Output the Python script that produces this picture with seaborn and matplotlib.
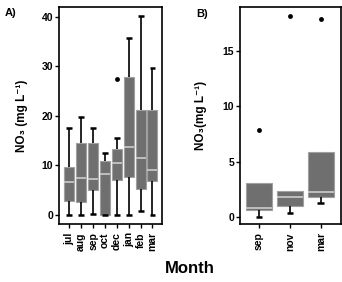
import matplotlib
matplotlib.use("Agg")
import matplotlib.pyplot as plt
import numpy as np
import pandas as pd
import seaborn as sns

# panel A: five-number summaries per month (min, q1, median, q3, max)
months_a = ["jul", "aug", "sep", "oct", "dec", "jan", "feb", "mar"]
lo_a = [0.0, 0.0, 0.2, 0.0, 0.0, 0.0, 0.8, -0.1]
q1_a = [2.8, 2.6, 5.0, 0.0, 7.0, 7.7, 5.3, 6.8]
med_a = [6.7, 7.5, 7.3, 8.3, 10.4, 13.7, 11.4, 9.0]
q3_a = [9.7, 14.6, 14.6, 10.9, 13.3, 27.8, 21.1, 21.2]
hi_a = [17.5, 19.8, 17.5, 12.5, 15.5, 35.8, 40.2, 29.6]
out_month_a = ["dec"]
out_val_a = [27.5]

# panel B (no upper whiskers)
months_b = ["sep", "nov", "mar"]
lo_b = [0.0, 0.4, 1.3]
q1_b = [0.7, 1.0, 1.8]
med_b = [0.8, 1.8, 2.3]
q3_b = [3.1, 2.4, 5.9]
hi_b = [3.1, 2.4, 5.9]
out_month_b = ["sep", "nov", "mar"]
out_val_b = [7.9, 18.2, 17.9]

sns.set_style("white")
plt.rcParams["font.family"] = ["Liberation Sans", "DejaVu Sans"]
plt.rcParams["font.weight"] = "bold"
for k in ["text.color", "axes.labelcolor", "xtick.color", "ytick.color"]:
    plt.rcParams[k] = "black"


def long_table(months, lo, q1, med, q3, hi):
    rows = []
    for i, m in enumerate(months):
        for v in [lo[i], q1[i], med[i], q3[i], hi[i]]:
            rows.append({"month": m, "no3": v})
    return pd.DataFrame(rows)


box_kw = dict(
    whis=(0, 100), color="#6f6f6f", saturation=1, linecolor="#a0a0a0", linewidth=0.8,
    showfliers=False,
    whiskerprops=dict(color="black", linewidth=1.2),
    capprops=dict(color="black", linewidth=1.8, solid_capstyle="butt"),
    medianprops=dict(color="#d4d4d4", linewidth=1.1),
)

fig = plt.figure(figsize=(3.42, 2.82), dpi=100)
ax1 = fig.add_axes([0.173, 0.206, 0.302, 0.770])
ax2 = fig.add_axes([0.703, 0.206, 0.294, 0.770])

df_a = long_table(months_a, lo_a, q1_a, med_a, q3_a, hi_a)
sns.boxplot(data=df_a, x="month", y="no3", order=months_a, width=0.84, capwidths=0.5,
            ax=ax1, **box_kw)
sns.stripplot(x=out_month_a, y=out_val_a, order=months_a, jitter=False, color="black",
              size=3.5, ax=ax1)
ax1.set_xlim(-0.86, 7.84)
ax1.set_ylim(-1.8, 42.0)
ax1.set_yticks([0, 10, 20, 30, 40])

df_b = long_table(months_b, lo_b, q1_b, med_b, q3_b, hi_b)
sns.boxplot(data=df_b, x="month", y="no3", order=months_b, width=0.83, capwidths=0.22,
            ax=ax2, **box_kw)
# drop the caps of the zero-length upper whiskers
for ln in list(ax2.lines):
    y = ln.get_ydata()
    if len(y) == 2 and y[0] == y[1] and ln.get_color() == "black" and y[0] in q3_b:
        ln.remove()
sns.stripplot(x=out_month_b, y=out_val_b, order=months_b, jitter=False, color="black",
              size=3.5, ax=ax2)
ax2.set_xlim(-0.6, 2.65)
ax2.set_ylim(-0.6, 19.0)
ax2.set_yticks([0, 5, 10, 15])

for ax in [ax1, ax2]:
    ax.set_xlabel("")
    ax.set_ylabel("NO₃ (mg L⁻¹)", fontsize=8.5, fontweight="bold")
    for s in ax.spines.values():
        s.set_visible(True)
        s.set_color("black")
        s.set_linewidth(1.2)
    ax.tick_params(axis="both", which="both", length=3, width=1, color="black",
                   labelsize=7.5, pad=1.5, left=True, bottom=True)
    ax.tick_params(axis="x", pad=3)
    for lab in ax.get_xticklabels():
        lab.set_rotation(90)
        lab.set_fontweight("bold")
    for lab in ax.get_yticklabels():
        lab.set_fontweight("bold")

ax2.set_ylabel("NO₃(mg L⁻¹)", fontsize=8.5, fontweight="bold")
ax1.yaxis.set_label_coords(-0.30, 0.5)
ax2.yaxis.set_label_coords(-0.33, 0.5)

fig.text(0.015, 0.955, "A)", fontsize=8, fontweight="bold", va="center")
fig.text(0.575, 0.95, "B)", fontsize=8, fontweight="bold", va="center")
fig.text(0.555, 0.048, "Month", fontsize=12, fontweight="bold", ha="center", va="center")

fig.savefig("out.png", dpi=100)
